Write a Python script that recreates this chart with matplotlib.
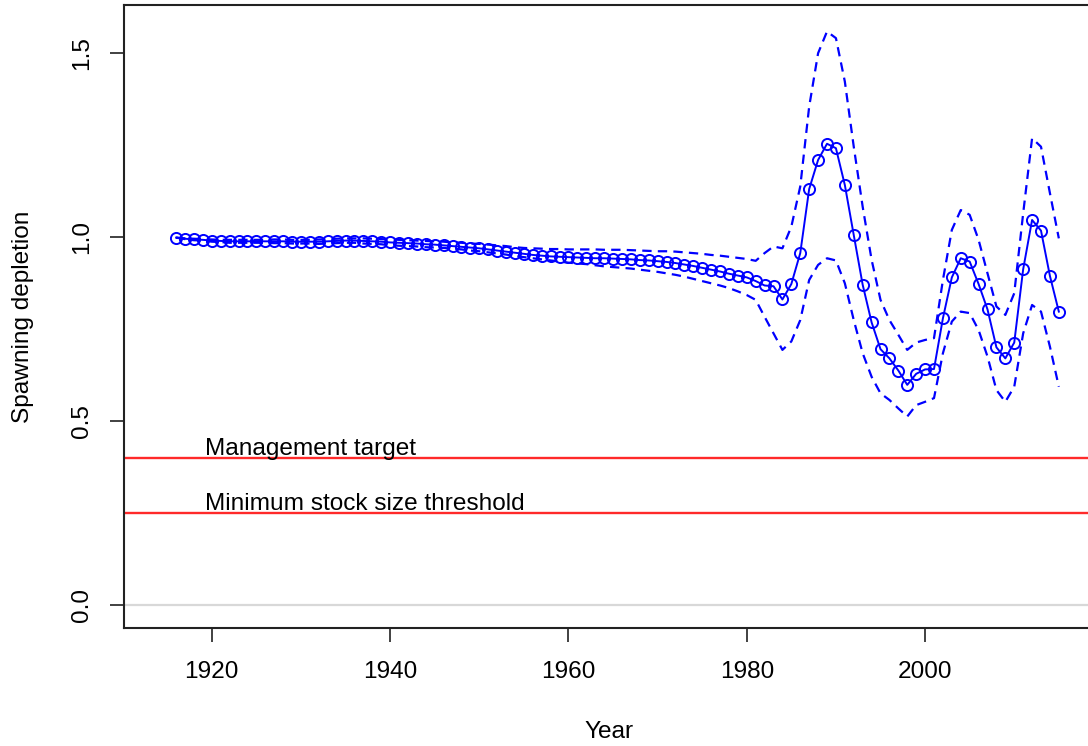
import matplotlib
matplotlib.use("Agg")
import matplotlib.pyplot as plt
import matplotlib.transforms as mtransforms

plt.rcParams['font.family'] = ['Liberation Sans', 'DejaVu Sans']

years = list(range(1916, 2016))

depletion = [
    0.998, 0.995, 0.993, 0.992, 0.990, 0.989, 0.988, 0.988, 0.988, 0.988,
    0.988, 0.988, 0.988, 0.987, 0.987, 0.987, 0.987, 0.988, 0.989, 0.990,
    0.990, 0.989, 0.988, 0.987, 0.985, 0.984, 0.983, 0.982, 0.980, 0.979,
    0.977, 0.975, 0.973, 0.971, 0.969, 0.966, 0.963, 0.960, 0.957, 0.954,
    0.951, 0.949, 0.947, 0.946, 0.945, 0.944, 0.943, 0.942, 0.942, 0.941,
    0.940, 0.939, 0.937, 0.936, 0.934, 0.932, 0.929, 0.925, 0.921, 0.916,
    0.911, 0.906, 0.900, 0.895, 0.890, 0.880, 0.868, 0.866, 0.830, 0.872,
    0.956, 1.130, 1.209, 1.253, 1.241, 1.141, 1.005, 0.870, 0.768, 0.695,
    0.670, 0.637, 0.598, 0.628, 0.640, 0.641, 0.779, 0.890, 0.942, 0.933,
    0.872, 0.803, 0.700, 0.670, 0.713, 0.912, 1.046, 1.017, 0.894, 0.797,
]

upper = [
    0.998, 0.996, 0.995, 0.994, 0.993, 0.992, 0.992, 0.992, 0.992, 0.992,
    0.992, 0.993, 0.993, 0.992, 0.992, 0.992, 0.993, 0.994, 0.995, 0.996,
    0.996, 0.996, 0.995, 0.994, 0.993, 0.992, 0.991, 0.990, 0.989, 0.988,
    0.987, 0.985, 0.984, 0.982, 0.981, 0.979, 0.977, 0.975, 0.972, 0.970,
    0.969, 0.968, 0.967, 0.967, 0.966, 0.966, 0.966, 0.966, 0.965, 0.965,
    0.965, 0.964, 0.963, 0.962, 0.961, 0.961, 0.960, 0.958, 0.956, 0.954,
    0.951, 0.949, 0.946, 0.943, 0.940, 0.935, 0.956, 0.974, 0.969, 1.028,
    1.137, 1.354, 1.499, 1.558, 1.540, 1.422, 1.245, 1.082, 0.938, 0.829,
    0.774, 0.734, 0.693, 0.713, 0.720, 0.725, 0.883, 1.019, 1.073, 1.060,
    0.992, 0.901, 0.811, 0.788, 0.847, 1.064, 1.268, 1.245, 1.119, 0.996,
]

lower = [
    0.998, 0.994, 0.991, 0.990, 0.987, 0.986, 0.984, 0.984, 0.984, 0.984,
    0.984, 0.983, 0.983, 0.982, 0.982, 0.982, 0.981, 0.982, 0.983, 0.984,
    0.984, 0.982, 0.981, 0.980, 0.977, 0.976, 0.975, 0.974, 0.972, 0.971,
    0.970, 0.968, 0.966, 0.963, 0.961, 0.958, 0.955, 0.952, 0.948, 0.945,
    0.942, 0.939, 0.936, 0.933, 0.930, 0.928, 0.926, 0.923, 0.920, 0.918,
    0.916, 0.914, 0.911, 0.908, 0.905, 0.901, 0.897, 0.892, 0.886, 0.880,
    0.874, 0.868, 0.861, 0.852, 0.842, 0.829, 0.783, 0.738, 0.693, 0.716,
    0.774, 0.883, 0.924, 0.942, 0.936, 0.874, 0.774, 0.684, 0.620, 0.575,
    0.557, 0.534, 0.512, 0.543, 0.552, 0.562, 0.684, 0.770, 0.797, 0.793,
    0.747, 0.675, 0.584, 0.552, 0.593, 0.738, 0.815, 0.797, 0.702, 0.593,
]

ref_levels = [0.4, 0.25]
ref_labels = ["Management target", "Minimum stock size threshold"]
x_ticks = [1920, 1940, 1960, 1980, 2000]
y_ticks = [0.0, 0.5, 1.0, 1.5]
y_ticklabels = ["0.0", "0.5", "1.0", "1.5"]

W, H = 1088, 746
fig = plt.figure(figsize=(W / 100, H / 100), dpi=100)
left_px, right_px, top_px, bottom_px = 123.5, 1094.5, 5.0, 627.7
ax = fig.add_axes([left_px / W, 1 - bottom_px / H,
                   (right_px - left_px) / W, (bottom_px - top_px) / H])

blue = "#0000FF"
ax.axhline(0.0, color="#D8D8D8", lw=1.6, zorder=1)
for lvl in ref_levels:
    ax.axhline(lvl, color="#FF2A2A", lw=1.7, zorder=2)

ax.plot(years, upper, color=blue, lw=1.6, dashes=(4.2, 2.8), zorder=3)
ax.plot(years, lower, color=blue, lw=1.6, dashes=(4.2, 2.8), zorder=3)
ax.plot(years, depletion, color=blue, lw=1.4, marker="o", markersize=8.0,
        markerfacecolor="none", markeredgecolor=blue, markeredgewidth=1.4, zorder=4)

txt_tr = mtransforms.offset_copy(ax.transData, fig=fig, x=0, y=3, units="dots")
for lvl, lab in zip(ref_levels, ref_labels):
    ax.text(1919.25, lvl, lab, transform=txt_tr, ha="left", va="baseline",
            fontsize=17.6, color="black")

ax.set_xlim(1910.1, 2019.0)
ax.set_ylim(-0.0617, 1.630)
ax.set_xticks(x_ticks)
ax.set_xticklabels([str(t) for t in x_ticks])
ax.set_yticks(y_ticks)
ax.set_yticklabels(y_ticklabels, rotation=90, va="center")
ax.tick_params(axis="both", direction="out", length=10, width=1.3,
               color="#333333", labelsize=17.6, labelcolor="black")
ax.tick_params(axis="x", pad=14)
ax.tick_params(axis="y", pad=12)
for s in ["top", "left", "bottom", "right"]:
    ax.spines[s].set_linewidth(1.5)
    ax.spines[s].set_color("#222222")

fig.text(609 / W, 1 - 731.7 / H, "Year", ha="center", va="center",
         fontsize=17.6, color="black")
fig.text(23.3 / W, 1 - 316.4 / H, "Spawning depletion", ha="center", va="center",
         rotation=90, fontsize=17.6, color="black")

fig.savefig("out.png", dpi=100)
